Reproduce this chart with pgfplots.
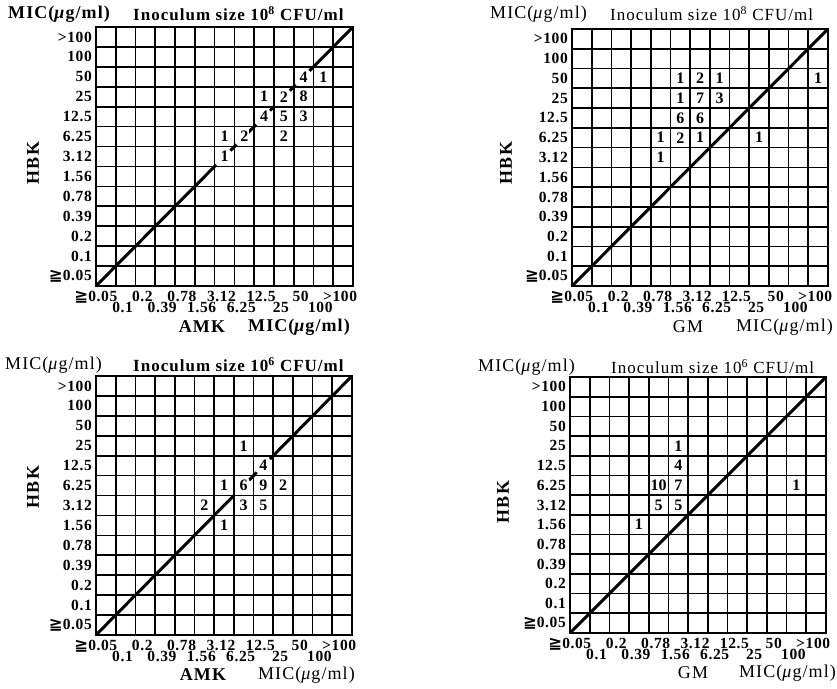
\documentclass[border=0pt]{standalone}
\usepackage{pgfplots}
\pgfplotsset{compat=1.18}
\usepackage{fontspec}
\setmainfont{Liberation Serif}
\newfontfamily\symf{DejaVu Sans}
\newfontfamily\ttl[LetterSpace=6]{Liberation Serif}
\newfontfamily\tkf[LetterSpace=4]{Liberation Serif}
\newcommand\gq{{\symf\fontsize{16.5bp}{16.5bp}\selectfont ≧}}
\newcommand\mic{MIC(\textit{μ}g/ml)}

\pgfplotsset{
 mic/.style={
  scale only axis,
  xmin=-0.5,xmax=12.5,ymin=-0.5,ymax=12.5,
  xtick={0,2,...,12}, xticklabels={\gq0.05\hspace*{14bp},0.2,0.78,3.12,12.5,50,>100},
  extra x ticks={1,3,...,11}, extra x tick labels={0.1,0.39,1.56,6.25,25,100},
  ytick={0,...,12}, yticklabels={\gq0.05,0.1,0.2,0.39,0.78,1.56,3.12,6.25,12.5,25,50,100,>100},
  minor xtick={-0.5,0.5,...,12.5}, minor ytick={-0.5,0.5,...,12.5},
  grid=minor, minor grid style={black, line width=1.7pt}, major grid style={draw=none},
  major tick length=0pt, minor tick length=0pt,
  axis line style={line width=1.8pt},
  tick label style={font=\tkf\bfseries\fontsize{15.5bp}{15.5bp}\selectfont},
  xticklabel style={anchor=north, inner sep=0pt, yshift=-5bp, xshift=-3bp},
  extra x tick style={grid=none, xticklabel style={yshift=-11bp}},
  yticklabel style={anchor=east, inner sep=0pt, xshift=-4bp},
  clip=false,
 },
 cellnums/.style={draw=none, nodes near coords, point meta=explicit symbolic,
  nodes near coords align={center},
  every node near coord/.append style={font=\bfseries\fontsize{16bp}{16bp}\selectfont, fill=white, inner sep=1bp}},
 diag/.style={black, line width=3pt, unbounded coords=jump},
}

\begin{document}
\begin{tikzpicture}[x=1bp,y=1bp]
\path[use as bounding box] (0,0) rectangle (837,689);

% Panel 1: AMK, 10^8
\begin{axis}[mic, at={(96bp,403bp)}, anchor=south west, width=257bp, height=259bp]
\addplot[diag] coordinates {(-0.5,-0.5) (5.58,5.58) (nan,nan) (6.3,6.3) (6.6,6.6) (nan,nan) (7.2,7.2) (7.6,7.6) (nan,nan) (8.3,8.3) (8.5,8.5) (nan,nan) (9.3,9.3) (9.6,9.6) (nan,nan) (10.3,10.3) (12.5,12.5)};
\addplot[cellnums] table[meta=n] {
x y n
6 6 1
6 7 1
7 7 2
8 8 4
8 9 1
9 9 2
9 8 5
9 7 2
10 9 8
10 8 3
10 10 4
11 10 1
};
\end{axis}

% Panel 2: GM, 10^8
\begin{axis}[mic, at={(572bp,403bp)}, anchor=south west, width=256bp, height=257bp]
\addplot[diag] coordinates {(-0.5,-0.5) (12.5,12.5)};
\addplot[cellnums] table[meta=n] {
x y n
5 10 1
6 10 2
7 10 1
12 10 1
5 9 1
6 9 7
7 9 3
5 8 6
6 8 6
4 7 1
5 7 2
6 7 1
9 7 1
4 6 1
};
\end{axis}

% Panel 3: AMK, 10^6
\begin{axis}[mic, at={(96bp,54bp)}, anchor=south west, width=256bp, height=259bp]
\addplot[diag] coordinates {(-0.5,-0.5) (6.5,6.5) (nan,nan) (7.27,7.27) (7.66,7.66) (nan,nan) (8.33,8.33) (12.5,12.5)};
\addplot[cellnums] table[meta=n] {
x y n
7 9 1
8 8 4
6 7 1
7 7 6
8 7 9
9 7 2
5 6 2
7 6 3
8 6 5
6 5 1
};
\end{axis}

% Panel 4: GM, 10^6
\begin{axis}[mic, at={(570bp,56bp)}, anchor=south west, width=256bp, height=256bp]
\addplot[diag] coordinates {(-0.5,-0.5) (12.5,12.5)};
\addplot[cellnums] table[meta=n] {
x y n
5 9 1
5 8 4
4 7 10
5 7 7
11 7 1
4 6 5
5 6 5
3 5 1
};
\end{axis}

% Titles and labels
\tikzset{ttlb/.style={inner sep=0pt, font=\ttl\bfseries\fontsize{18bp}{18bp}\selectfont},
         ttlr/.style={inner sep=0pt, font=\ttl\fontsize{18bp}{18bp}\selectfont},
         inob/.style={inner sep=0pt, font=\ttl\bfseries\fontsize{17bp}{17bp}\selectfont},
         inor/.style={inner sep=0pt, font=\ttl\fontsize{17bp}{17bp}\selectfont}}
% panel 1
\node[ttlb, anchor=west] at (8bp,675bp) {\mic};
\node[inob, anchor=west] at (133bp,675bp) {Inoculum size 10\textsuperscript{8} CFU/ml};
\node[ttlb, rotate=90] at (33bp,526bp) {HBK};
\node[ttlb] at (202bp,362bp) {AMK};
\node[ttlb, anchor=east] at (350bp,362bp) {\mic};
% panel 2
\node[ttlr, anchor=west] at (490bp,675bp) {\mic};
\node[inor, anchor=west] at (610bp,675bp) {Inoculum size 10\textsuperscript{8} CFU/ml};
\node[ttlb, rotate=90] at (506bp,526bp) {HBK};
\node[ttlr] at (688bp,362bp) {GM};
\node[ttlr, anchor=east] at (833bp,362bp) {\mic};
% panel 3
\node[ttlr, anchor=west] at (5bp,324bp) {\mic};
\node[inob, anchor=west] at (133bp,324bp) {Inoculum size 10\textsuperscript{6} CFU/ml};
\node[ttlb, rotate=90] at (33bp,202bp) {HBK};
\node[ttlb] at (203bp,14bp) {AMK};
\node[ttlr, anchor=east] at (355bp,14bp) {\mic};
% panel 4
\node[ttlr, anchor=west] at (478bp,322bp) {\mic};
\node[inor, anchor=west] at (611bp,322bp) {Inoculum size 10\textsuperscript{6} CFU/ml};
\node[ttlb, rotate=90] at (503bp,187bp) {HBK};
\node[ttlr] at (693bp,16bp) {GM};
\node[ttlr, anchor=east] at (836bp,16bp) {\mic};
\end{tikzpicture}
\end{document}
